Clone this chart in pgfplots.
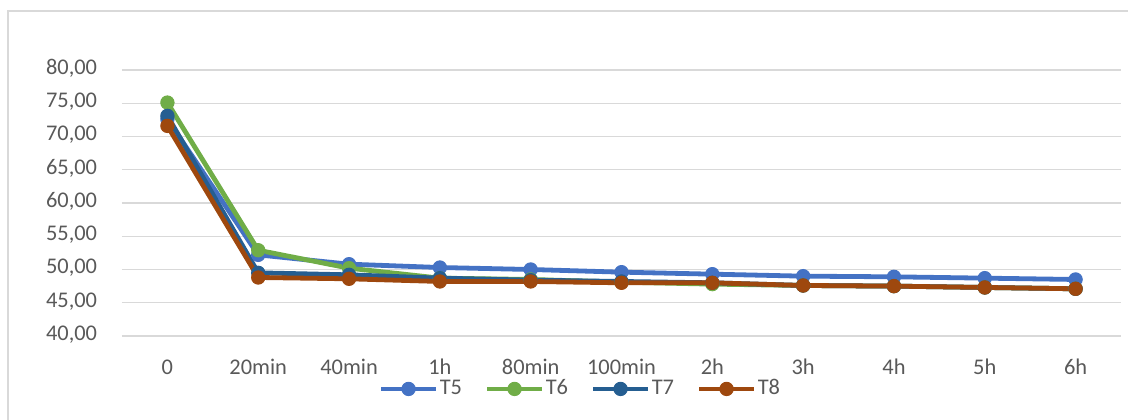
\documentclass[border=0pt]{standalone}
\usepackage{fontspec}
\setmainfont{Carlito}
\usepackage{pgfplots}
\pgfplotsset{compat=1.18}

\definecolor{cT5}{HTML}{4472C4}
\definecolor{cT6}{HTML}{70AD47}
\definecolor{cT7}{HTML}{255E91}
\definecolor{cT8}{HTML}{9E480E}
\definecolor{gridgray}{HTML}{D9D9D9}
\definecolor{textgray}{HTML}{595959}

\begin{document}
\fontsize{16.8}{20}\selectfont
\begin{tikzpicture}[x=1pt,y=1pt]
\useasboundingbox (0,0) rectangle (846,314.25);
% chart area frame
\draw[gridgray, line width=1.1pt] (6,-2) -- (6,306) -- (850,306);
\begin{axis}[
  at={(91.5pt,62.25pt)}, anchor=south west,
  scale only axis,
  width=749.25pt, height=199.5pt,
  xmin=-0.5, xmax=10.5,
  ymin=40, ymax=80,
  ytick={40,45,...,80},
  xtick={0,...,10},
  xticklabels={0,20min,40min,1h,80min,100min,2h,3h,4h,5h,6h},
  axis line style={draw=none},
  major tick length=0pt,
  ymajorgrids,
  grid style={gridgray, line width=1pt},
  tick label style={text=textgray, font=\fontsize{16.8}{20}\selectfont},
  xticklabel style={anchor=base, inner sep=0pt, yshift=-28.6pt},
  yticklabel style={anchor=base east, inner sep=0pt, xshift=-18.5pt, yshift=-3.2pt},
  /pgf/number format/.cd, fixed, fixed zerofill, precision=2, use comma, assume math mode=true,
  /pgfplots/.cd,
  every axis plot/.append style={line width=3.6pt, mark=*, mark size=5pt, line join=round},
  legend columns=4,
  legend style={at={(0.4585,-0.199)}, anchor=center, draw=none, fill=none,
    font=\fontsize{16.8}{20}\selectfont, text=textgray,
    nodes={inner xsep=1pt, inner ysep=0pt},
    /tikz/every even column/.append style={column sep=16pt}},
  legend image code/.code={
    \draw[mark repeat=2, mark phase=2, #1, line width=3.6pt, mark size=5pt]
      plot coordinates {(0pt,0pt) (20.6pt,0pt) (41.2pt,0pt)};
  },
]
\addplot[color=cT5, mark options={fill=cT5, line width=0.75pt}] coordinates {
  (0,72.6) (1,52.2) (2,50.8) (3,50.3) (4,50.0) (5,49.6) (6,49.3) (7,49.0) (8,48.9) (9,48.7) (10,48.5)};
\addlegendentry{T5}
\addplot[color=cT6, mark options={fill=cT6, line width=0.75pt}] coordinates {
  (0,75.1) (1,52.9) (2,50.2) (3,48.7) (4,48.5) (5,48.1) (6,47.8) (7,47.6) (8,47.5) (9,47.3) (10,47.1)};
\addlegendentry{T6}
\addplot[color=cT7, mark options={fill=cT7, line width=0.75pt}] coordinates {
  (0,73.1) (1,49.5) (2,49.2) (3,48.7) (4,48.4) (5,48.2) (6,48.0) (7,47.6) (8,47.5) (9,47.3) (10,47.1)};
\addlegendentry{T7}
\addplot[color=cT8, mark options={fill=cT8, line width=0.75pt}] coordinates {
  (0,71.6) (1,48.8) (2,48.6) (3,48.2) (4,48.2) (5,48.0) (6,48.0) (7,47.6) (8,47.5) (9,47.3) (10,47.1)};
\addlegendentry{T8}
\end{axis}
\end{tikzpicture}
\end{document}
